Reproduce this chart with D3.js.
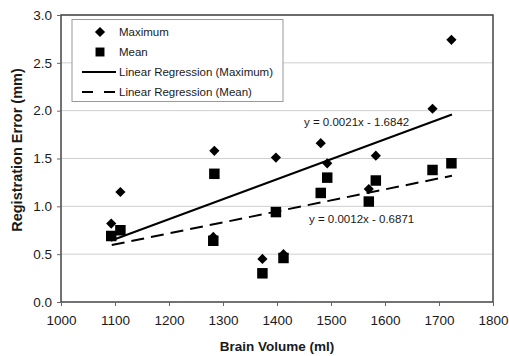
<!DOCTYPE html>
<html>
<head>
<meta charset="utf-8">
<script src="https://cdn.jsdelivr.net/npm/d3@7"></script>
<style>
  body { margin: 0; background: #fff; }
  text { font-family: "Liberation Sans", Arial, sans-serif; fill: #1a1a1a; }
</style>
</head>
<body>
<div id="chart"></div>
<script>
// brain volume (ml) for each subject
var volume = [1093, 1110, 1284, 1282, 1373, 1398, 1412, 1481, 1493, 1570, 1583, 1688, 1723];
// registration errors (mm)
var maximum = [0.82, 1.15, 1.58, 0.68, 0.45, 1.51, 0.50, 1.66, 1.45, 1.18, 1.53, 2.02, 2.74];
var mean = [0.69, 0.75, 1.34, 0.64, 0.30, 0.94, 0.46, 1.14, 1.30, 1.05, 1.27, 1.38, 1.45];

// regression line end points
var fitMaxX = [1092, 1724], fitMaxY = [0.64, 1.96];
var fitMeanX = [1094, 1724], fitMeanY = [0.595, 1.32];

var xTicks = [1000, 1100, 1200, 1300, 1400, 1500, 1600, 1700, 1800];
var yTicks = [0, 0.5, 1, 1.5, 2, 2.5, 3];
var legendLabels = ["Maximum", "Mean", "Linear Regression (Maximum)", "Linear Regression (Mean)"];
var eqLabels = ["y = 0.0021x - 1.6842", "y = 0.0012x - 0.6871"];

var W = 509, H = 356;
var margin = { top: 15, right: 15, bottom: 54, left: 61 },
    width = 493 - margin.left,
    height = 302 - margin.top;

var svg = d3.select("#chart")
  .append("svg")
  .attr("width", W)
  .attr("height", H);

var g = svg.append("g")
  .attr("transform", "translate(" + margin.left + "," + margin.top + ")");

var x = d3.scaleLinear().domain([1000, 1800]).range([0, width]);
var y = d3.scaleLinear().domain([0, 3]).range([height, 0]);

// gridlines
g.append("g")
  .selectAll("line")
  .data(yTicks.slice(1))
  .enter()
  .append("line")
    .attr("x1", 0)
    .attr("x2", width)
    .attr("y1", function(d) { return y(d); })
    .attr("y2", function(d) { return y(d); })
    .attr("stroke", "#cfcfcf")
    .attr("stroke-width", 1);

// plot frame
g.append("rect")
  .attr("x", 0).attr("y", 0)
  .attr("width", width).attr("height", height)
  .attr("fill", "none")
  .attr("stroke", "#444")
  .attr("stroke-width", 1.5);

// axes
var xAxis = g.append("g")
  .attr("transform", "translate(0," + height + ")")
  .call(d3.axisBottom(x).tickValues(xTicks).tickSize(4).tickPadding(9).tickFormat(d3.format("d")));

var yAxis = g.append("g")
  .call(d3.axisLeft(y).tickValues(yTicks).tickSize(4).tickPadding(5).tickFormat(d3.format(".1f")));

[xAxis, yAxis].forEach(function(a) {
  a.select(".domain").remove();
  a.selectAll("line").attr("stroke", "#666");
  a.selectAll("text")
    .style("font-size", "13.5px")
    .style("font-family", "Liberation Sans, Arial, sans-serif")
    .attr("fill", "#1a1a1a");
});

// axis titles
svg.append("text")
  .attr("x", 277)
  .attr("y", 351)
  .attr("text-anchor", "middle")
  .style("font-size", "13.5px")
  .style("font-weight", "bold")
  .text("Brain Volume (ml)");

svg.append("text")
  .attr("transform", "translate(22,150) rotate(-90)")
  .attr("text-anchor", "middle")
  .style("font-size", "14.5px")
  .style("font-weight", "bold")
  .text("Registration Error (mm)");

// regression lines
var line = d3.line()
  .x(function(d) { return x(d[0]); })
  .y(function(d) { return y(d[1]); });

g.append("path")
  .datum(d3.zip(fitMaxX, fitMaxY))
  .attr("d", line)
  .attr("fill", "none")
  .attr("stroke", "#000")
  .attr("stroke-width", 2);

g.append("path")
  .datum(d3.zip(fitMeanX, fitMeanY))
  .attr("d", line)
  .attr("fill", "none")
  .attr("stroke", "#000")
  .attr("stroke-width", 2)
  .attr("stroke-dasharray", "13,7");

// markers
var diamond = d3.symbol().type(d3.symbolSquare).size(52);
var square = d3.symbol().type(d3.symbolSquare).size(110);

g.append("g")
  .selectAll("path")
  .data(d3.zip(volume, mean))
  .enter()
  .append("path")
    .attr("d", square)
    .attr("transform", function(d) { return "translate(" + x(d[0]) + "," + y(d[1]) + ")"; })
    .attr("fill", "#000");

g.append("g")
  .selectAll("path")
  .data(d3.zip(volume, maximum))
  .enter()
  .append("path")
    .attr("d", diamond)
    .attr("transform", function(d) { return "translate(" + x(d[0]) + "," + y(d[1]) + ") rotate(45)"; })
    .attr("fill", "#000");

// equation labels
svg.append("text")
  .attr("x", 304).attr("y", 126)
  .style("font-size", "11.5px")
  .text(eqLabels[0]);

svg.append("text")
  .attr("x", 309).attr("y", 223)
  .style("font-size", "11.5px")
  .text(eqLabels[1]);

// legend
var legend = svg.append("g");
legend.append("rect")
  .attr("x", 72).attr("y", 19.5)
  .attr("width", 211).attr("height", 82)
  .attr("fill", "#fff")
  .attr("stroke", "#999")
  .attr("stroke-width", 1);

var rowY = [32, 52, 72, 92];

legend.append("path")
  .attr("d", diamond)
  .attr("transform", "translate(100," + rowY[0] + ") rotate(45)")
  .attr("fill", "#000");
legend.append("path")
  .attr("d", d3.symbol().type(d3.symbolSquare).size(80))
  .attr("transform", "translate(100," + rowY[1] + ")")
  .attr("fill", "#000");
legend.append("line")
  .attr("x1", 82).attr("x2", 116)
  .attr("y1", rowY[2]).attr("y2", rowY[2])
  .attr("stroke", "#000").attr("stroke-width", 2);
legend.append("line")
  .attr("x1", 82).attr("x2", 116)
  .attr("y1", rowY[3]).attr("y2", rowY[3])
  .attr("stroke", "#000").attr("stroke-width", 2)
  .attr("stroke-dasharray", "11,11");

legend.selectAll("text.lab")
  .data(legendLabels)
  .enter()
  .append("text")
    .attr("class", "lab")
    .attr("x", 119)
    .attr("y", function(d, i) { return rowY[i] + 4; })
    .style("font-size", "11.5px")
    .text(function(d) { return d; });
</script>
</body>
</html>
